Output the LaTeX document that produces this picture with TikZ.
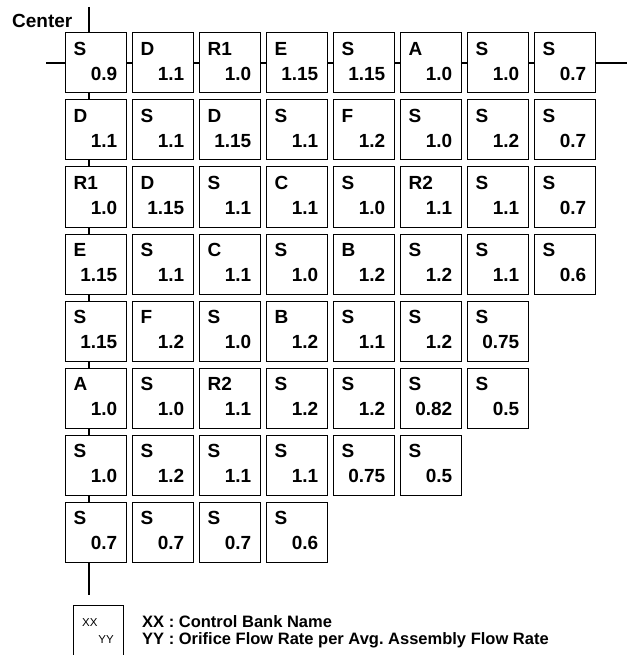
\documentclass[tikz,border=0pt]{standalone}
\usepackage{fontspec}
\setmainfont{Liberation Sans}

\tikzset{
    cell/.style={draw,line width=1pt,minimum width=61pt,minimum height=60pt,inner sep=0pt},
    bank/.style={anchor=north west,inner sep=0pt,xshift=9pt,yshift=-10pt,font=\fontsize{19}{21}\selectfont\bfseries},
    rate/.style={anchor=base east,inner sep=0pt,xshift=-9pt,yshift=13pt,font=\fontsize{19}{21}\selectfont\bfseries},
    conn/.style={line width=1.2pt},
    note/.style={anchor=base west,inner sep=0pt,font=\fontsize{16.5}{18}\selectfont\bfseries},
}

\begin{document}
\begin{tikzpicture}[x=1pt,y=-1pt]
    \useasboundingbox (0,0) rectangle (627,655);

    % ROW 1
    \begin{scope}[yshift=-63pt,xshift=95.5pt]
        \foreach \c/\b/\v in {1/S/0.9,2/D/1.1,3/R1/1.0,4/E/1.15,5/S/1.15,6/A/1.0,7/S/1.0,8/S/0.7} {
            \node[cell] (fa-1-\c) at ({67*(\c-1)},0) {};
            \node[bank] (fb-1-\c) at (fa-1-\c.north west) {\b};
            \node[rate] (fr-1-\c) at (fa-1-\c.south east) {\v};
        }
    \end{scope}

    % ROW 2
    \begin{scope}[yshift=-130pt,xshift=95.5pt]
        \foreach \c/\b/\v in {1/D/1.1,2/S/1.1,3/D/1.15,4/S/1.1,5/F/1.2,6/S/1.0,7/S/1.2,8/S/0.7} {
            \node[cell] (fa-2-\c) at ({67*(\c-1)},0) {};
            \node[bank] (fb-2-\c) at (fa-2-\c.north west) {\b};
            \node[rate] (fr-2-\c) at (fa-2-\c.south east) {\v};
        }
    \end{scope}

    % ROW 3
    \begin{scope}[yshift=-197pt,xshift=95.5pt]
        \foreach \c/\b/\v in {1/R1/1.0,2/D/1.15,3/S/1.1,4/C/1.1,5/S/1.0,6/R2/1.1,7/S/1.1,8/S/0.7} {
            \node[cell] (fa-3-\c) at ({67*(\c-1)},0) {};
            \node[bank] (fb-3-\c) at (fa-3-\c.north west) {\b};
            \node[rate] (fr-3-\c) at (fa-3-\c.south east) {\v};
        }
    \end{scope}

    % ROW 4
    \begin{scope}[yshift=-264pt,xshift=95.5pt]
        \foreach \c/\b/\v in {1/E/1.15,2/S/1.1,3/C/1.1,4/S/1.0,5/B/1.2,6/S/1.2,7/S/1.1,8/S/0.6} {
            \node[cell] (fa-4-\c) at ({67*(\c-1)},0) {};
            \node[bank] (fb-4-\c) at (fa-4-\c.north west) {\b};
            \node[rate] (fr-4-\c) at (fa-4-\c.south east) {\v};
        }
    \end{scope}

    % ROW 5
    \begin{scope}[yshift=-331pt,xshift=95.5pt]
        \foreach \c/\b/\v in {1/S/1.15,2/F/1.2,3/S/1.0,4/B/1.2,5/S/1.1,6/S/1.2,7/S/0.75} {
            \node[cell] (fa-5-\c) at ({67*(\c-1)},0) {};
            \node[bank] (fb-5-\c) at (fa-5-\c.north west) {\b};
            \node[rate] (fr-5-\c) at (fa-5-\c.south east) {\v};
        }
    \end{scope}

    % ROW 6
    \begin{scope}[yshift=-398pt,xshift=95.5pt]
        \foreach \c/\b/\v in {1/A/1.0,2/S/1.0,3/R2/1.1,4/S/1.2,5/S/1.2,6/S/0.82,7/S/0.5} {
            \node[cell] (fa-6-\c) at ({67*(\c-1)},0) {};
            \node[bank] (fb-6-\c) at (fa-6-\c.north west) {\b};
            \node[rate] (fr-6-\c) at (fa-6-\c.south east) {\v};
        }
    \end{scope}

    % ROW 7
    \begin{scope}[yshift=-465pt,xshift=95.5pt]
        \foreach \c/\b/\v in {1/S/1.0,2/S/1.2,3/S/1.1,4/S/1.1,5/S/0.75,6/S/0.5} {
            \node[cell] (fa-7-\c) at ({67*(\c-1)},0) {};
            \node[bank] (fb-7-\c) at (fa-7-\c.north west) {\b};
            \node[rate] (fr-7-\c) at (fa-7-\c.south east) {\v};
        }
    \end{scope}

    % ROW 8
    \begin{scope}[yshift=-532pt,xshift=95.5pt]
        \foreach \c/\b/\v in {1/S/0.7,2/S/0.7,3/S/0.7,4/S/0.6} {
            \node[cell] (fa-8-\c) at ({67*(\c-1)},0) {};
            \node[bank] (fb-8-\c) at (fa-8-\c.north west) {\b};
            \node[rate] (fr-8-\c) at (fa-8-\c.south east) {\v};
        }
    \end{scope}

    % AXES
    \node[note,font=\fontsize{19}{21}\selectfont\bfseries] (center) at (12,28) {Center};
    \coordinate (top) at (89,7);
    \coordinate (left) at (46,63);
    \coordinate (right) at (627,63);
    \coordinate (bottom) at (89,595);
    \draw[conn] (left) -- (fa-1-1.west);
    \foreach \c [evaluate=\c as \d using int(\c+1)] in {1,...,7}
        \draw[conn] (fa-1-\c.east) -- (fa-1-\d.west);
    \draw[conn] (fa-1-8.east) -- (right);
    \draw[conn] (top) -- (top |- fa-1-1.north);
    \foreach \r [evaluate=\r as \s using int(\r+1)] in {1,...,7}
        \draw[conn] (top |- fa-\r-1.south) -- (top |- fa-\s-1.north);
    \draw[conn] (top |- fa-8-1.south) -- (bottom);

    % LEGEND
    \node[cell,minimum width=50pt,minimum height=53pt] (key) at (98,631.5) {};
    \node[anchor=base west,inner sep=0pt,font=\fontsize{11.5}{12}\selectfont] (kxx) at (82,626) {XX};
    \node[anchor=base east,inner sep=0pt,font=\fontsize{11.5}{12}\selectfont] (kyy) at (114,643) {YY};
    \node[note] (kbank) at (142,627) {XX : Control Bank Name};
    \node[note] (krate) at (142,644) {YY : Orifice Flow Rate per Avg.\ Assembly Flow Rate};

\end{tikzpicture}
\end{document}
